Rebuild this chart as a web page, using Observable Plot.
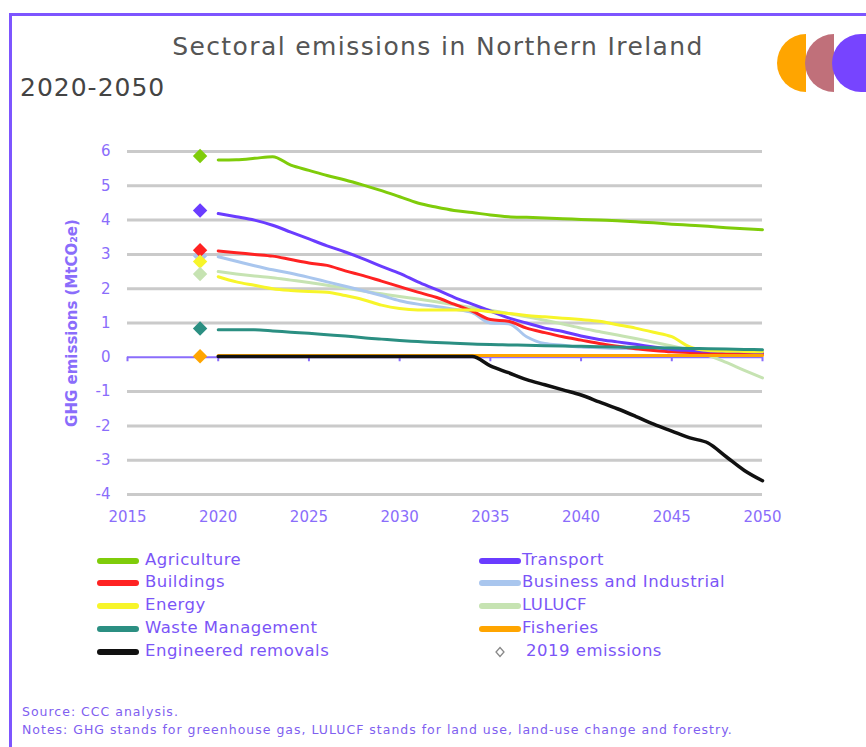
<!DOCTYPE html>
<html>
<head>
<meta charset="utf-8">
<script src="https://cdn.jsdelivr.net/npm/d3@7"></script>
<script src="https://cdn.jsdelivr.net/npm/@observablehq/plot@0.6"></script>
<style>
  html, body { margin: 0; padding: 0; background: #fff; }
  #page { position: relative; width: 866px; height: 747px; overflow: hidden; font-family: "DejaVu Sans", sans-serif; background: #fff; }
  .border-top { position: absolute; left: 9px; top: 13px; width: 860px; height: 3px; background: #7d55ff; }
  .border-left { position: absolute; left: 9px; top: 13px; width: 3px; height: 740px; background: #7d55ff; }
  .title { position: absolute; left: 0; width: 876px; top: 32px; text-align: center; font-size: 25px; letter-spacing: 1.4px; color: #555; }
  .subtitle { position: absolute; left: 20px; top: 73px; font-size: 25px; color: #444; letter-spacing: 1px; }
  #chart { position: absolute; left: 0; top: 130px; }
  .leg { position: absolute; font-size: 16.5px; letter-spacing: 0.5px; color: #7b55f7; line-height: 18px; white-space: nowrap; }
  .sw { position: absolute; height: 6px; border-radius: 3px; }
  .foot { position: absolute; left: 22px; font-size: 12.5px; letter-spacing: 1px; color: #8060f0; white-space: nowrap; }
  #logo { position: absolute; left: 760px; top: 25px; }
</style>
</head>
<body>
<div id="page">
  <div class="border-top"></div>
  <div class="border-left"></div>
  <div class="title">Sectoral emissions in Northern Ireland</div>
  <div class="subtitle">2020-2050</div>
  <svg id="logo" width="106" height="80" viewBox="760 25 106 80">
    <path d="M806,34 A29,29 0 0 0 806,92 Z" fill="#ffa500"/>
    <path d="M834,34 A29,29 0 0 0 834,92 Z" fill="#c0707a"/>
    <path d="M861,34 A29,29 0 0 0 861,92 Z" fill="#7744ff"/>
    <rect x="861" y="34" width="10" height="58" fill="#7744ff"/>
  </svg>
  <div id="chart"></div>
  <div id="legend"></div>
  <div class="foot" style="top:704px">Source: CCC analysis.</div>
  <div class="foot" style="top:722px">Notes: GHG stands for greenhouse gas, LULUCF stands for land use, land-use change and forestry.</div>
</div>
<script>
// ---- data ----
const years = [2020,2021,2022,2023,2024,2025,2026,2027,2028,2029,2030,2031,2032,2033,2034,2035,2036,2037,2038,2039,2040,2041,2042,2043,2044,2045,2046,2047,2048,2049,2050];
const xTicks = [2015,2020,2025,2030,2035,2040,2045,2050];
const yTicks = [-4,-3,-2,-1,0,1,2,3,4,5,6];
const baselineYear = 2019;

const agriculture = [5.75,5.76,5.8,5.85,5.6,5.45,5.3,5.17,5.02,4.86,4.68,4.5,4.38,4.28,4.22,4.15,4.1,4.08,4.06,4.04,4.02,4.0,3.98,3.95,3.92,3.88,3.85,3.82,3.78,3.75,3.72];
const transport = [4.19,4.1,4.0,3.85,3.65,3.45,3.25,3.07,2.87,2.65,2.45,2.2,1.98,1.75,1.55,1.35,1.15,1.0,0.85,0.75,0.62,0.52,0.45,0.38,0.3,0.23,0.2,0.18,0.17,0.16,0.15];
const buildings = [3.1,3.05,3.0,2.95,2.85,2.75,2.68,2.52,2.38,2.22,2.06,1.9,1.75,1.55,1.35,1.1,1.05,0.85,0.72,0.6,0.5,0.4,0.32,0.25,0.2,0.16,0.14,0.12,0.11,0.1,0.1];
const business = [2.93,2.8,2.67,2.55,2.45,2.33,2.2,2.07,1.94,1.8,1.65,1.55,1.48,1.4,1.3,1.0,0.98,0.6,0.4,0.35,0.3,0.28,0.26,0.25,0.24,0.23,0.22,0.21,0.2,0.2,0.2];
const energy = [2.35,2.2,2.1,2.0,1.95,1.92,1.9,1.8,1.68,1.52,1.42,1.38,1.38,1.38,1.38,1.33,1.28,1.22,1.18,1.14,1.1,1.05,0.95,0.85,0.73,0.6,0.3,0.2,0.18,0.17,0.16];
const lulucf = [2.5,2.43,2.37,2.32,2.25,2.18,2.1,2.02,1.93,1.85,1.77,1.7,1.62,1.53,1.45,1.37,1.28,1.18,1.08,0.97,0.85,0.75,0.65,0.55,0.44,0.33,0.2,0.06,-0.15,-0.38,-0.6];
const waste = [0.8,0.8,0.8,0.77,0.73,0.7,0.66,0.62,0.57,0.53,0.49,0.46,0.43,0.41,0.39,0.37,0.36,0.35,0.34,0.33,0.32,0.31,0.3,0.29,0.28,0.27,0.26,0.25,0.24,0.23,0.22];
const fisheries = [0.05,0.05,0.05,0.05,0.05,0.05,0.05,0.05,0.05,0.05,0.05,0.05,0.05,0.05,0.05,0.05,0.05,0.05,0.05,0.05,0.05,0.05,0.05,0.05,0.05,0.05,0.05,0.05,0.05,0.05,0.05];
const removals = [0.02,0.02,0.02,0.02,0.02,0.02,0.02,0.02,0.02,0.02,0.02,0.02,0.02,0.02,0.02,-0.25,-0.45,-0.65,-0.8,-0.95,-1.1,-1.3,-1.5,-1.72,-1.95,-2.15,-2.35,-2.5,-2.9,-3.3,-3.6];

const diamondNames = ["Agriculture","Transport","Business and Industrial","Buildings","Energy","LULUCF","Waste Management","Fisheries"];
const diamondValues = [5.87, 4.28, 2.95, 3.12, 2.79, 2.43, 0.84, 0.03];

// ---- styles ----
const colors = {
  "Agriculture": "#7fcc0a",
  "Transport": "#6a3cff",
  "Buildings": "#ff2222",
  "Business and Industrial": "#a9c6ee",
  "Energy": "#f7f52a",
  "LULUCF": "#c6e3b2",
  "Waste Management": "#2b8f82",
  "Fisheries": "#ffa500",
  "Engineered removals": "#111111"
};
const purple = "#8a6dfb";
const valuesByName = {
  "Agriculture": agriculture, "Transport": transport, "Buildings": buildings,
  "Business and Industrial": business, "Energy": energy, "LULUCF": lulucf,
  "Waste Management": waste, "Fisheries": fisheries, "Engineered removals": removals
};
const drawOrder = ["LULUCF","Business and Industrial","Buildings","Transport","Energy","Agriculture","Waste Management","Fisheries","Engineered removals"];

const lineMarks = drawOrder.map(name => {
  const rows = years.map((y, i) => ({year: y, value: valuesByName[name][i]}));
  return Plot.line(rows, {x: "year", y: "value", stroke: colors[name], strokeWidth: name === "Engineered removals" ? 3.5 : 3, curve: "monotone-x"});
});
const diamonds = diamondNames.map((n, i) => ({name: n, year: baselineYear, value: diamondValues[i]}));

const chart = Plot.plot({
  width: 866,
  height: 400,
  marginLeft: 127,
  marginRight: 104,
  marginTop: 21,
  marginBottom: 36,
  style: {fontFamily: "DejaVu Sans, sans-serif", background: "transparent", overflow: "visible"},
  x: {domain: [2015, 2050]},
  y: {domain: [-4, 6]},
  marks: [
    Plot.ruleY(yTicks.filter(d => d !== 0), {stroke: "#cacaca", strokeWidth: 3}),
    Plot.ruleY([0], {stroke: purple, strokeWidth: 2}),
    Plot.ruleX(xTicks, {y1: 0, y2: -0.13, stroke: purple, strokeWidth: 2}),
    ...lineMarks,
    Plot.dot(diamonds, {x: "year", y: "value", fill: d => colors[d.name], symbol: "diamond2", r: 6.5, stroke: "none"}),
    Plot.text(["GHG emissions (MtCO\u2082e)"], {text: d => d, frameAnchor: "left", textAnchor: "middle", rotate: -90, dx: -55, fontSize: 15, fontWeight: "bold", fill: purple}),
    Plot.axisX(xTicks, {tickSize: 0, tickPadding: 17, tickFormat: d => String(d), fontSize: 15, color: purple, label: null}),
    Plot.axisY(yTicks, {tickSize: 0, tickPadding: 17, tickFormat: d => String(d), fontSize: 15, color: purple, label: null})
  ]
});
document.getElementById("chart").appendChild(chart);

// ---- legend ----
const legend = document.getElementById("legend");
const legendRows = [561, 583, 606, 629, 652];
const col1 = ["Agriculture","Buildings","Energy","Waste Management","Engineered removals"];
const col2 = ["Transport","Business and Industrial","LULUCF","Fisheries"];
function addItem(name, swX, swW, txtX, y) {
  const sw = document.createElement("div");
  sw.className = "sw";
  sw.style.left = swX + "px"; sw.style.width = swW + "px"; sw.style.top = (y - 3) + "px";
  sw.style.background = colors[name];
  legend.appendChild(sw);
  const t = document.createElement("div");
  t.className = "leg";
  t.style.left = txtX + "px"; t.style.top = (y - 10) + "px";
  t.textContent = name;
  legend.appendChild(t);
}
col1.forEach((n, i) => addItem(n, 97, 42, 145, legendRows[i]));
col2.forEach((n, i) => addItem(n, 479, 42, 522, legendRows[i]));
// 2019 emissions marker
const mk = document.createElementNS("http://www.w3.org/2000/svg", "svg");
mk.setAttribute("width", "12"); mk.setAttribute("height", "12");
mk.style.position = "absolute"; mk.style.left = "494px"; mk.style.top = (legendRows[4] - 6) + "px";
mk.innerHTML = '<path d="M6,1.5 L10,6 L6,10.5 L2,6 Z" fill="none" stroke="#888" stroke-width="1.3"/>';
legend.appendChild(mk);
const t19 = document.createElement("div");
t19.className = "leg";
t19.style.left = "526px"; t19.style.top = (legendRows[4] - 10) + "px";
t19.textContent = baselineYear + " emissions";
legend.appendChild(t19);
</script>
</body>
</html>
